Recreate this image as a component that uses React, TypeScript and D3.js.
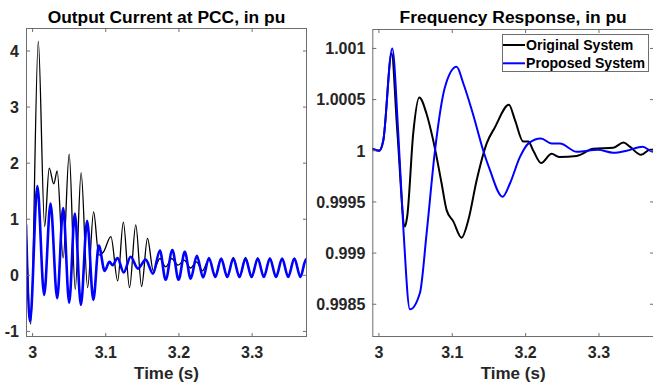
import React from "react";
import * as d3 from "d3";

// ---------- data ----------
const xTicks = [3, 3.1, 3.2, 3.3];
const currentYTicks = [-1, 0, 1, 2, 3, 4];
const freqYTicks = [0.9985, 0.999, 0.9995, 1, 1.0005, 1.001];
const freqYLabels = ["0.9985", "0.999", "0.9995", "1", "1.0005", "1.001"];
const seriesNames = ["Original System", "Proposed System"];

// Output current at PCC, original system: [time, pu]
const currentOriginal: [number, number][] = [
  [2.991, 0.9], [2.9975, -0.87], [3.0078, 4.17], [3.0165, 0.87], [3.0227, 1.91],
  [3.029, 1.63], [3.0336, 1.86], [3.0418, 0.31], [3.05, 2.16], [3.0583, -0.25],
  [3.0663, 1.83], [3.0752, -0.22], [3.0834, 1.13], [3.0905, 0.36], [3.097, 0.42],
  [3.107, 0.69], [3.1163, -0.1], [3.124, 0.95], [3.1325, -0.22], [3.141, 0.9],
  [3.149, -0.2], [3.157, 0.66], [3.165, 0.08], [3.174, 0.3], [3.182, 0.15],
  [3.19, 0.3], [3.199, 0.18], [3.207, 0.27], [3.216, 0.13], [3.224, 0.24],
  [3.232, 0.08], [3.241, 0.28], [3.2497, 0.0], [3.2577, 0.3], [3.266, -0.03],
  [3.2743, 0.32], [3.2827, -0.04], [3.291, 0.32], [3.2993, -0.04], [3.3077, 0.31],
  [3.316, -0.03], [3.3243, 0.31], [3.3327, -0.03], [3.341, 0.3], [3.3493, -0.02],
  [3.3577, 0.3], [3.366, -0.02], [3.3743, 0.3], [3.378, 0.26],
];

// Output current at PCC, proposed system
const currentProposed: [number, number][] = [
  [2.991, 0.9], [2.9966, -0.82], [3.0065, 1.59], [3.0158, -0.35], [3.0245, 1.28],
  [3.0336, -0.41], [3.0418, 1.2], [3.05, -0.49], [3.0577, 1.1], [3.066, -0.53],
  [3.0745, 0.97], [3.083, -0.44], [3.0905, 0.53], [3.0985, 0.08], [3.105, 0.24],
  [3.1095, 0.18], [3.116, 0.31], [3.1245, 0.05], [3.134, 0.33], [3.144, 0.12],
  [3.1545, 0.28], [3.1645, 0.03], [3.174, 0.44], [3.1818, -0.08], [3.191, 0.45],
  [3.1995, -0.08], [3.208, 0.42], [3.216, -0.06], [3.2245, 0.35], [3.233, -0.04],
  [3.241, 0.31], [3.2497, -0.03], [3.2577, 0.3], [3.266, -0.03], [3.2743, 0.3],
  [3.2827, -0.03], [3.291, 0.3], [3.2993, -0.03], [3.3077, 0.3], [3.316, -0.03],
  [3.3243, 0.3], [3.3327, -0.03], [3.341, 0.3], [3.3493, -0.03], [3.3577, 0.3],
  [3.366, -0.03], [3.3735, 0.28], [3.378, 0.2],
];

// Frequency response, original system
const freqOriginal: [number, number][] = [
  [2.991, 1.00002], [3.0005, 1.0], [3.006, 1.0001], [3.0173, 1.00095], [3.025, 1.0002],
  [3.0355, 0.99926], [3.0386, 0.99936], [3.0468, 1.00017], [3.055, 1.00052], [3.065, 1.00036],
  [3.0741, 1.0001], [3.0855, 0.99968], [3.0923, 0.99942], [3.1014, 0.99931], [3.1127, 0.99915],
  [3.1218, 0.99932], [3.1332, 0.99971], [3.1468, 1.00007], [3.1582, 1.00023], [3.1772, 1.00045],
  [3.1855, 1.0003], [3.1968, 1.00009], [3.2036, 1.00009], [3.2105, 1.0], [3.2212, 0.99988],
  [3.2355, 0.99997], [3.2455, 0.99994], [3.2696, 0.99995], [3.2923, 1.00002], [3.3195, 1.00003],
  [3.3335, 1.00008], [3.342, 1.00004], [3.3575, 0.99996], [3.3695, 1.00001], [3.378, 1.00001],
];

// Frequency response, proposed system
const freqProposed: [number, number][] = [
  [2.991, 1.00002], [3.0005, 1.0], [3.0059, 1.0001], [3.0182, 1.001], [3.0264, 1.00017],
  [3.0332, 0.99926], [3.0423, 0.99845], [3.0559, 0.99861], [3.065, 0.99919], [3.0764, 1.0],
  [3.09, 1.00062], [3.1059, 1.00082], [3.115, 1.00066], [3.1286, 1.00035], [3.1423, 1.0],
  [3.1514, 0.99981], [3.1686, 0.99955], [3.1786, 0.99968], [3.1923, 0.99994], [3.2036, 1.00007],
  [3.2209, 1.00012], [3.2355, 1.00007], [3.2468, 1.00007], [3.27, 0.99999], [3.2986, 1.00001],
  [3.3195, 0.99998], [3.3377, 1.0], [3.3595, 1.00004], [3.3736, 0.99999], [3.378, 0.99999],
];

const xDomain: [number, number] = [2.991, 3.375];

// ---------- layout ----------
const W = 653;
const H = 385;
const FONT = "'Liberation Sans', Arial, Helvetica, sans-serif";
const TXT = "#262626";
const AX = "#6e6e6e";

type PanelProps = {
  left: number; right: number; top: number; bottom: number;
  yDomain: [number, number];
  yTicks: number[]; yLabels: string[];
  title: string;
  series: { data: [number, number][]; color: string; width: number }[];
  id: string;
  legend?: boolean;
};

function Panel(p: PanelProps) {
  const x = d3.scaleLinear().domain(xDomain).range([p.left, p.right]);
  const y = d3.scaleLinear().domain(p.yDomain).range([p.bottom, p.top]);
  const line = d3.line<[number, number]>()
    .x((d) => x(d[0]))
    .y((d) => y(d[1]))
    .curve(d3.curveMonotoneX);
  const tl = 4;
  const cx = (p.left + p.right) / 2;
  return (
    <g>
      <defs>
        <clipPath id={p.id}>
          <rect x={p.left} y={p.top} width={p.right - p.left} height={p.bottom - p.top} />
        </clipPath>
      </defs>
      <rect x={p.left} y={p.top} width={p.right - p.left} height={p.bottom - p.top} fill="#fff" />
      <g clipPath={`url(#${p.id})`}>
        {p.series.map((s, i) => (
          <path key={i} d={line(s.data) || ""} fill="none" stroke={s.color}
            strokeWidth={s.width} strokeLinejoin="round" strokeLinecap="round" />
        ))}
      </g>
      <rect x={p.left + 0.5} y={p.top + 0.5} width={p.right - p.left - 1} height={p.bottom - p.top - 1}
        fill="none" stroke={AX} strokeWidth={1} />
      {xTicks.map((t) => (
        <g key={"x" + t}>
          <line x1={x(t)} x2={x(t)} y1={p.bottom} y2={p.bottom - tl} stroke={AX} />
          <line x1={x(t)} x2={x(t)} y1={p.top} y2={p.top + tl} stroke={AX} />
          <text x={x(t)} y={p.bottom + 21} textAnchor="middle" fontSize={16} fontWeight="bold"
            fontFamily={FONT} fill={TXT}>{String(t)}</text>
        </g>
      ))}
      {p.yTicks.map((t, i) => (
        <g key={"y" + t}>
          <line x1={p.left} x2={p.left + tl} y1={y(t)} y2={y(t)} stroke={AX} />
          <line x1={p.right} x2={p.right - tl} y1={y(t)} y2={y(t)} stroke={AX} />
          <text x={p.left - 7} y={y(t)} dy="0.36em" textAnchor="end" fontSize={16} fontWeight="bold"
            fontFamily={FONT} fill={TXT}>{p.yLabels[i]}</text>
        </g>
      ))}
      <text x={cx} y={22.5} textAnchor="middle" fontSize={17.4} fontWeight="bold"
        fontFamily={FONT} fill="#000">{p.title}</text>
      <text x={cx} y={379} textAnchor="middle" fontSize={17} fontWeight="bold"
        fontFamily={FONT} fill={TXT}>Time (s)</text>
      {p.legend && (
        <g>
          <rect x={502.5} y={34.5} width={146} height={37} fill="#fff" stroke={AX} strokeWidth={1} />
          {p.series.map((s, i) => (
            <g key={"l" + i}>
              <line x1={503} x2={525} y1={45 + i * 18.3} y2={45 + i * 18.3} stroke={s.color} strokeWidth={s.width} />
              <text x={526} y={45 + i * 18.3} dy="0.36em" fontSize={14.1} fontWeight="bold"
                fontFamily={FONT} fill="#000">{seriesNames[i]}</text>
            </g>
          ))}
        </g>
      )}
    </g>
  );
}

export default function App() {
  return (
    <svg width={W} height={H} style={{ position: "absolute", left: 0, top: 0, background: "#fff" }}>
      <rect width={W} height={H} fill="#fff" />
      <Panel id="clipA" left={26} right={307} top={28} bottom={337}
        yDomain={[-1.1, 4.41]} yTicks={currentYTicks} yLabels={currentYTicks.map(String)}
        title="Output Current at PCC, in pu"
        series={[
          { data: currentOriginal, color: "#000000", width: 1.3 },
          { data: currentProposed, color: "#0000ff", width: 2.6 },
        ]} />
      <Panel id="clipB" left={372.3} right={654} top={29} bottom={337}
        yDomain={[0.99818, 1.00119]} yTicks={freqYTicks} yLabels={freqYLabels}
        title="Frequency Response, in pu" legend
        series={[
          { data: freqOriginal, color: "#000000", width: 2 },
          { data: freqProposed, color: "#0000ff", width: 2 },
        ]} />
    </svg>
  );
}
